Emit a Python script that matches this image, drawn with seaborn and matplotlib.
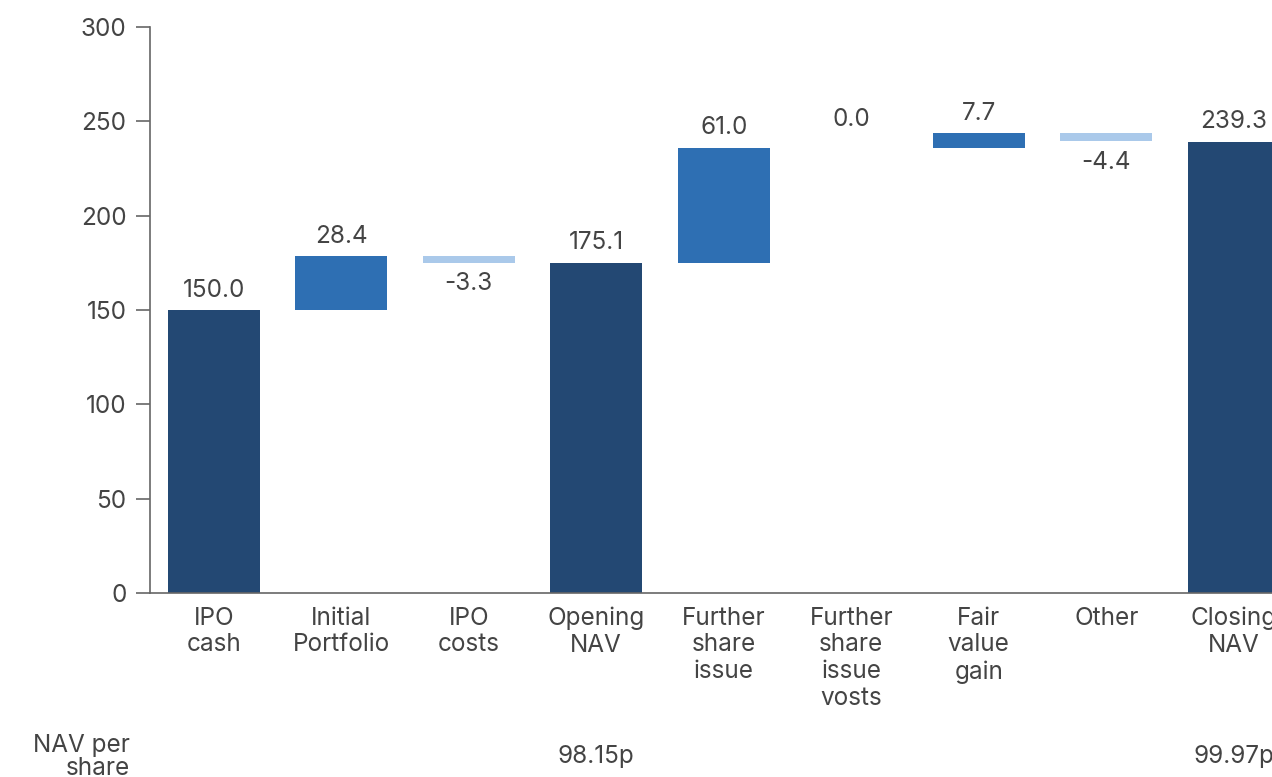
import matplotlib
matplotlib.use("Agg")
import matplotlib.pyplot as plt
import seaborn as sns
import numpy as np
import pandas as pd

categories = ["IPO\ncash", "Initial\nPortfolio", "IPO\ncosts", "Opening\nNAV",
              "Further\nshare\nissue", "Further\nshare\nissue\nvosts",
              "Fair\nvalue\ngain", "Other", "Closing\nNAV"]
changes = [150.0, 28.4, -3.3, 175.1, 61.0, 0.0, 7.7, -4.4, 239.3]
kinds = ["total", "up", "down", "total", "up", "up", "up", "down", "total"]
labels = ["150.0", "28.4", "-3.3", "175.1", "61.0", "0.0", "7.7", "-4.4", "239.3"]
nav_per_share = {3: "98.15p", 8: "99.97p"}
yticks = [0, 50, 100, 150, 200, 250, 300]

colors = {"total": "#234873", "up": "#2E6FB3", "down": "#AAC9EA"}
text_color = "#444444"

# waterfall geometry
bottoms, tops = [], []
running = 0.0
for v, k in zip(changes, kinds):
    if k == "total":
        b, t = 0.0, v
        running = v
    else:
        b, t = min(running, running + v), max(running, running + v)
        running = running + v
    bottoms.append(b)
    tops.append(t)
heights = [t - b for b, t in zip(bottoms, tops)]

sns.set_theme(style="white")
plt.rcParams["font.family"] = ["Inter", "DejaVu Sans"]

fig = plt.figure(figsize=(12.72, 7.77), dpi=100)
ax = fig.add_axes([150 / 1272, (777 - 593) / 777, 9 * 127.5 / 1272, 566 / 777])

df = pd.DataFrame({"cat": categories, "h": heights})
sns.barplot(data=df, x="cat", y="h", ax=ax, width=0.72, color=colors["total"],
            saturation=1, linewidth=0)
for p, b, k in zip(ax.patches, bottoms, kinds):
    p.set_y(b)
    p.set_facecolor(colors[k])
    p.set_edgecolor("none")

fs = 17.5
for i, (lab, k, b, t, h) in enumerate(zip(labels, kinds, bottoms, tops, heights)):
    if k == "down":
        ax.annotate(lab, (i, b), xytext=(0, -7), textcoords="offset points",
                    ha="center", va="top", fontsize=fs, color=text_color)
    else:
        off = 12 if h == 0 else 6
        ax.annotate(lab, (i, t), xytext=(0, off), textcoords="offset points",
                    ha="center", va="bottom", fontsize=fs, color=text_color)

ax.set_xlim(-0.5, 8.5)
ax.set_ylim(0, 300)
ax.set_yticks(yticks)
ax.set_yticklabels([str(v) for v in yticks], fontsize=fs, color=text_color)
ax.set_xlabel("")
ax.set_ylabel("")
ax.tick_params(axis="y", length=10, width=1.2, color="#666666", pad=7, left=True)
ax.tick_params(axis="x", length=0, pad=10, labelsize=fs, labelcolor=text_color)
for lbl in ax.get_xticklabels():
    lbl.set_linespacing(1.2)
for s in ["top", "right"]:
    ax.spines[s].set_visible(False)
for s in ["left", "bottom"]:
    ax.spines[s].set_color("#666666")
    ax.spines[s].set_linewidth(1.2)

# NAV per share row
fig.text(130 / 1272, 1 - 757 / 777, "NAV per\nshare", ha="right", va="center",
         fontsize=fs, color=text_color, linespacing=1.0)
for i, txt in nav_per_share.items():
    ax.annotate(txt, (i, 0), xycoords=("data", "axes fraction"),
                xytext=(0, -(757 - 593) * 72 / 100), textcoords="offset points",
                ha="center", va="center", fontsize=fs, color=text_color,
                annotation_clip=False)

fig.savefig("out.png", dpi=100)
